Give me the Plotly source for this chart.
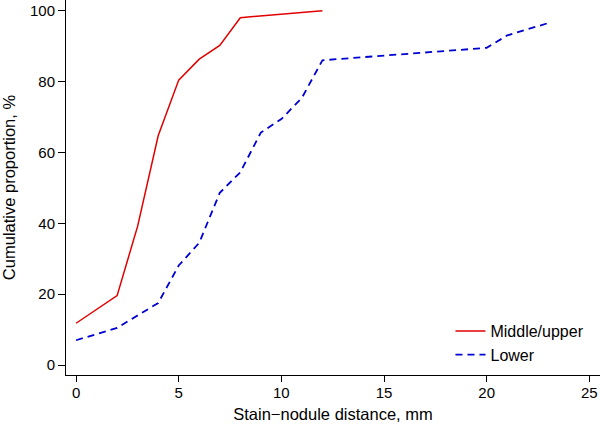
import plotly.graph_objects as go

mid_x = [0, 2, 3, 4, 5, 6, 7, 8, 12]
mid_y = [11.8, 19.6, 39.2, 64.7, 80.4, 86.3, 90.2, 98.0, 100.0]

low_x = [0, 2, 4, 5, 6, 7, 8, 9, 10, 11, 12, 20, 21, 23]
low_y = [7.0, 10.5, 17.5, 28.1, 34.5, 48.6, 54.4, 65.6, 69.4, 75.4, 86.0, 89.5, 93.0, 96.5]

x_ticks = [0, 5, 10, 15, 20, 25]
y_ticks = [0, 20, 40, 60, 80, 100]

fig = go.Figure()
fig.add_trace(go.Scatter(x=mid_x, y=mid_y, mode="lines", name="Middle/upper",
                         line=dict(color="rgb(225,0,0)", width=1.5)))
fig.add_trace(go.Scatter(x=low_x, y=low_y, mode="lines", name="Lower",
                         line=dict(color="rgb(0,0,210)", width=1.8, dash="7px,5px")))

font = "Liberation Sans, Arial, Helvetica, sans-serif"
fig.update_layout(
    width=600, height=426,
    margin=dict(l=66, r=0, t=0, b=51, autoexpand=False),
    paper_bgcolor="white", plot_bgcolor="white",
    font=dict(family=font, size=15, color="black"),
    showlegend=True,
    legend=dict(x=0.72, y=0.008, xanchor="left", yanchor="bottom",
                bgcolor="rgba(0,0,0,0)", font=dict(size=16),
                tracegroupgap=0),
    xaxis=dict(range=[-0.49, 25.52], tickvals=x_ticks, showgrid=False, zeroline=False,
               showline=True, linecolor="black", linewidth=1, automargin=False,
               ticks="outside", ticklen=6, tickcolor="black",
               ticklabelstandoff=-2, ticklabeloverflow="allow",
               title=dict(text="Stain\u2212nodule distance, mm", standoff=8, font=dict(size=16.5))),
    yaxis=dict(range=[-2.8, 103.0], tickvals=y_ticks, showgrid=False, zeroline=False,
               showline=True, linecolor="black", linewidth=1, automargin=False,
               ticks="outside", ticklen=7, tickcolor="black",
               ticklabelstandoff=0, ticklabeloverflow="allow",
               title=dict(text="Cumulative proportion, %", standoff=10, font=dict(size=16.5))),
)

fig.write_html("out.html", config={"displayModeBar": False},
               post_script="document.body.style.margin='0';document.body.style.overflow='hidden';")
